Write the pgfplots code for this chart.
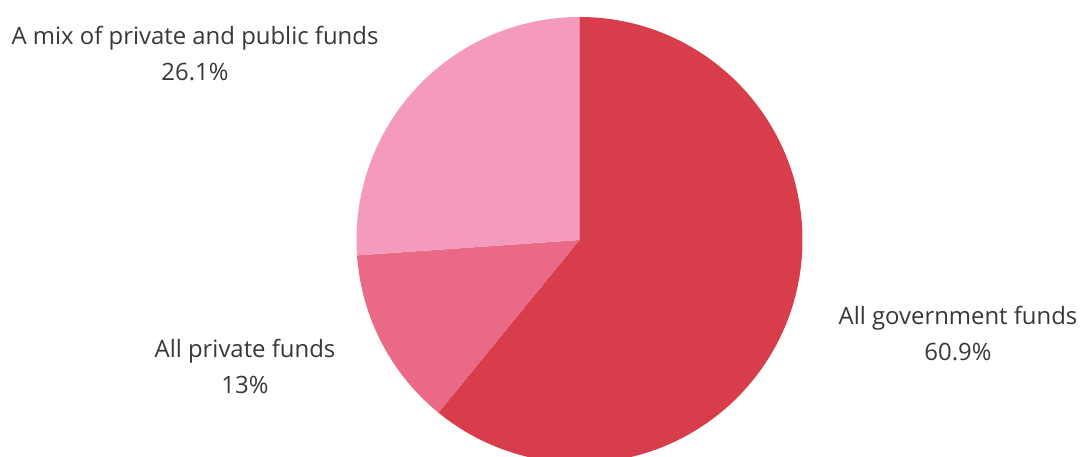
\documentclass[border=0pt]{standalone}
\usepackage{pgfplots}
\usepackage{pgfplotstable}
\pgfplotsset{compat=1.18}
\usepackage{fontspec}
\setmainfont{Open Sans}

\definecolor{govred}{HTML}{D83D4C}
\definecolor{privpink}{HTML}{EA6986}
\definecolor{mixpink}{HTML}{F39ABD}

% share of funding source, percent
\pgfplotstableread{
label value
gov   60.9
priv  13
mix   26.1
}\piedata

\begin{document}
\begin{tikzpicture}
\pgfplotstablegetelem{0}{value}\of\piedata \let\vgov\pgfplotsretval
\pgfplotstablegetelem{1}{value}\of\piedata \let\vpriv\pgfplotsretval
\pgfplotstablegetelem{2}{value}\of\piedata \let\vmix\pgfplotsretval
\pgfmathsetmacro\aA{90}
\pgfmathsetmacro\aB{90-3.6*\vgov}
\pgfmathsetmacro\aC{\aB-3.6*\vpriv}
\pgfmathsetmacro\aD{\aC-3.6*\vmix}
\begin{axis}[
    hide axis, scale only axis,
    width=10.81cm, height=4.57cm,
    xmin=0, xmax=1081, ymin=0, ymax=457,
    clip=true,
  ]
  \fill[govred]   (axis cs:579.5,217) -- ++(\aA:22.3mm) arc[start angle=\aA, end angle=\aB, radius=22.3mm] -- cycle;
  \fill[privpink] (axis cs:579.5,217) -- ++(\aB:22.3mm) arc[start angle=\aB, end angle=\aC, radius=22.3mm] -- cycle;
  \fill[mixpink]  (axis cs:579.5,217) -- ++(\aC:22.3mm) arc[start angle=\aC, end angle=\aD, radius=22.3mm] -- cycle;
  \node[align=center, font=\fontsize{6.8}{10.2}\selectfont, text=black!78] at (axis cs:958,123.5) {All government funds\\\vgov\%};
  \node[align=center, font=\fontsize{6.8}{10.2}\selectfont, text=black!78] at (axis cs:245,90.5) {All private funds\\\vpriv\%};
  \node[align=center, font=\fontsize{6.8}{10.2}\selectfont, text=black!78] at (axis cs:195,403.5) {A mix of private and public funds\\\vmix\%};
\end{axis}
\pgfresetboundingbox
\path (0,0) rectangle (10.81cm,4.57cm);
\end{tikzpicture}
\end{document}
